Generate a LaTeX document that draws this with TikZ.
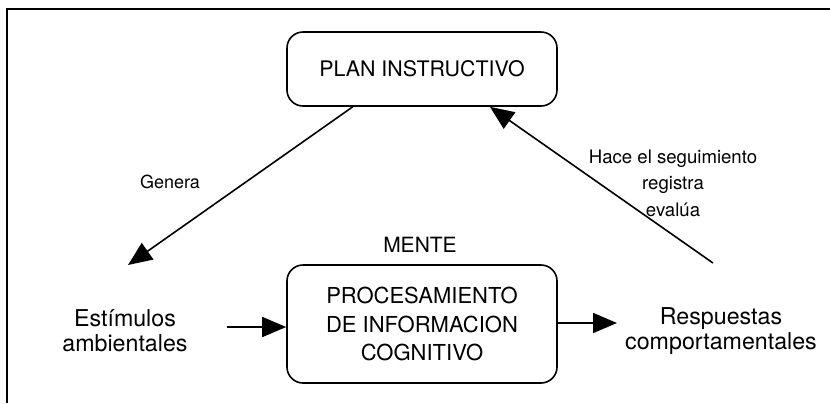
\documentclass[tikz,border=0pt]{standalone}
\usepackage{fontspec}
\setmainfont{TeX Gyre Heros}
\usepackage{tikz}
\usetikzlibrary{arrows.meta}
\usetikzlibrary{positioning}
\usetikzlibrary{calc}

\begin{document}
\begin{tikzpicture}[x=0.5pt,y=-0.5pt]
			\useasboundingbox (0,0) rectangle (830,403);
			\draw[line width=1pt] (7,403) -- (7,9) -- (830,9);
			\begin{scope}[every node/.style={draw,thick,rounded corners=8pt,align=center,inner sep=0pt}]
				\node[minimum width=135pt,minimum height=37pt,font=\fontsize{10.7}{13}\selectfont] (plan) at (422,69) {PLAN INSTRUCTIVO};
				\node[minimum width=135pt,minimum height=59pt,font=\fontsize{11}{14.25}\selectfont] (proc) at (422,324) {PROCESAMIENTO\\DE INFORMACION\\COGNITIVO};
			\end{scope}
			\begin{scope}[every node/.style={align=center,inner sep=0pt}]
				\node[font=\fontsize{10.5}{13}\selectfont] (mente) at (420,245) {MENTE};
				\node[font=\fontsize{11.6}{12.5}\selectfont] (estim) at (125,331) {Estímulos\\ambientales};
				\node[font=\fontsize{11.6}{12.5}\selectfont] (resp) at (721,331) {Respuestas\\comportamentales};
				\node[font=\fontsize{9}{11}\selectfont] (genera) at (170,182) {Genera};
				\node[font=\fontsize{9.3}{13.2}\selectfont] (hace) at (673,183) {Hace el seguimiento\\registra\\evalúa};
			\end{scope}
			\coordinate (gtip) at (128,265);
			\coordinate (rfoot) at (713,263);
			\coordinate (inL) at (227,327);
			\coordinate (outR) at (617,323);
      \begin{scope}[every edge/.style={draw=black,line width=0.8pt,-{Triangle[length=12pt,width=10pt]}}]
        \path ($(plan.south west)!0.245!(plan.south east)$) edge (gtip);
				\path (rfoot) edge ($(plan.south west)!0.75!(plan.south east)$);
				\path (inL) edge (inL -| proc.west);
				\path (outR -| proc.east) edge (outR);
      \end{scope}
\end{tikzpicture}
\end{document}
